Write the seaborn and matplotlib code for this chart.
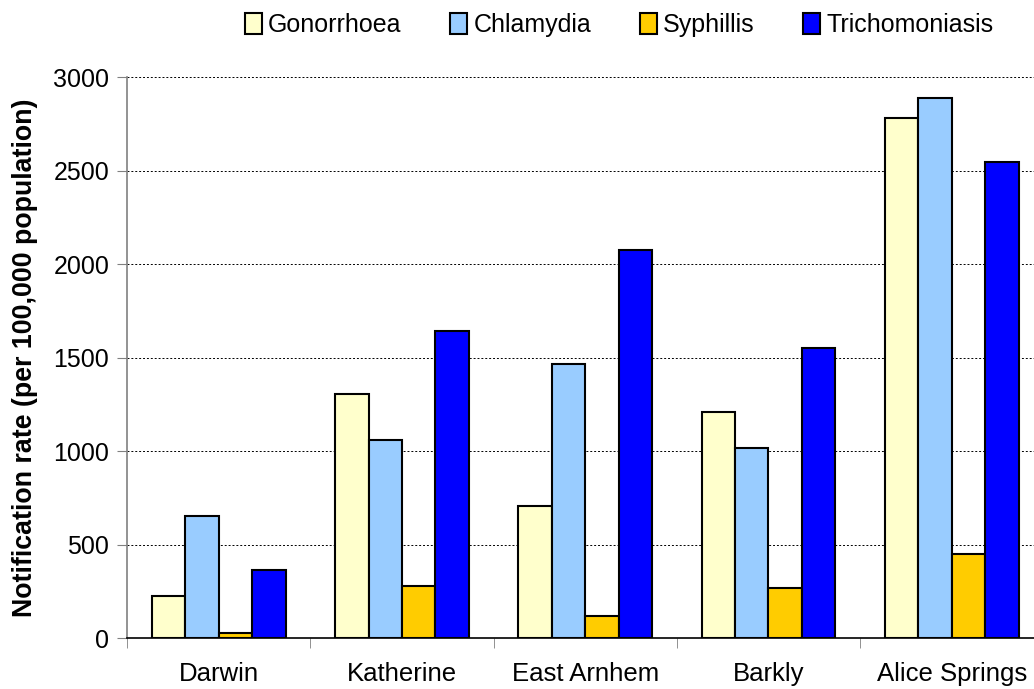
import matplotlib
matplotlib.use("Agg")
import matplotlib.pyplot as plt
import seaborn as sns
import pandas as pd

regions = ["Darwin", "Katherine", "East Arnhem", "Barkly", "Alice Springs"]
diseases = ["Gonorrhoea", "Chlamydia", "Syphillis", "Trichomoniasis"]
gonorrhoea = [225, 1305, 706, 1209, 2781]
chlamydia = [652, 1059, 1465, 1016, 2888]
syphillis = [27, 278, 118, 267, 449]
trichomoniasis = [364, 1642, 2075, 1551, 2545]
colors = ["#FFFFCC", "#99CCFF", "#FFCC00", "#0000FF"]

df = pd.DataFrame({"Region": regions, "Gonorrhoea": gonorrhoea, "Chlamydia": chlamydia,
                   "Syphillis": syphillis, "Trichomoniasis": trichomoniasis})
df = df.melt(id_vars="Region", var_name="Disease", value_name="Rate")

sns.set_style("white")
plt.rcParams['font.family'] = ['Liberation Sans', 'DejaVu Sans']
plt.rcParams['text.color'] = 'black'
plt.rcParams['axes.labelcolor'] = 'black'
plt.rcParams['xtick.labelcolor'] = 'black'
plt.rcParams['ytick.labelcolor'] = 'black'

fig = plt.figure(figsize=(10.34, 6.89), dpi=100)
ax = fig.add_axes([0.123, 0.074, 0.886, 0.814])

sns.barplot(data=df, x="Region", y="Rate", hue="Disease", order=regions, hue_order=diseases,
            palette=colors, width=0.73, gap=0, edgecolor="black", linewidth=1.5,
            saturation=1, ax=ax, zorder=3)

ax.set_ylim(0, 3000)
ax.set_xlim(-0.5, 4.5)
ax.set_yticks(range(0, 3001, 500))
ax.yaxis.grid(True, color="black", linestyle=(0, (2, 2)), linewidth=0.7)
ax.set_axisbelow(True)
for s in ["top", "right"]:
    ax.spines[s].set_visible(False)
ax.spines["left"].set_color("#808080")
ax.spines["left"].set_linewidth(1.2)
ax.spines["bottom"].set_color("black")
ax.spines["bottom"].set_linewidth(1.2)
ax.tick_params(axis="y", direction="out", length=7, color="#808080", labelsize=18, pad=6, left=True)
ax.tick_params(axis="x", which="major", length=0, labelsize=18.5, pad=17)
ax.set_xticks([i - 0.5 for i in range(6)], minor=True)
ax.tick_params(axis="x", which="minor", direction="out", length=7, color="#808080", bottom=True)
ax.set_xlabel("")
ax.set_ylabel("Notification rate (per 100,000 population)", fontsize=19.3, fontweight="bold", labelpad=11)

ax.legend(loc="center", bbox_to_anchor=(0.537, 1.093), ncol=4, frameon=False, fontsize=18,
          handlelength=0.68, handleheight=0.9, handletextpad=0.25, columnspacing=1.95)

fig.savefig("out.png", dpi=100)
